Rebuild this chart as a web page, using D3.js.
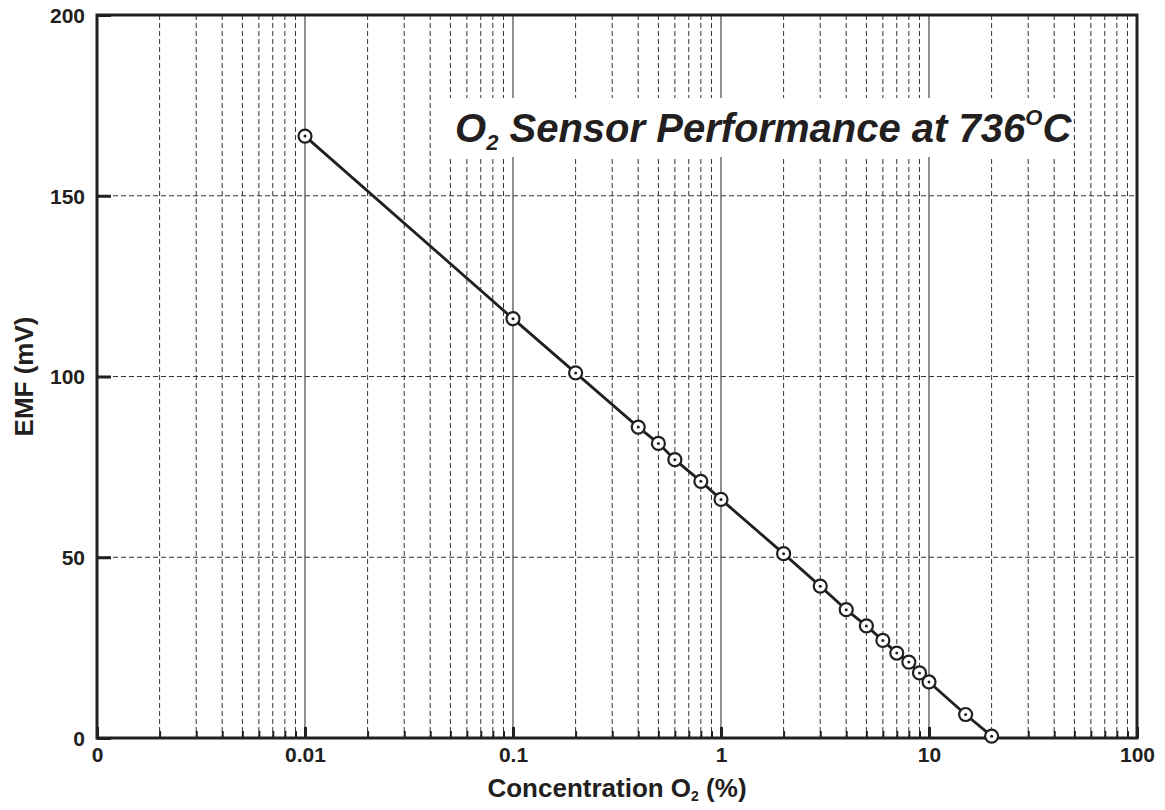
<!DOCTYPE html>
<html>
<head>
<meta charset="utf-8">
<script src="https://cdn.jsdelivr.net/npm/d3@7"></script>
<style>
body { margin: 0; background: #fff; }
svg text { font-family: "Liberation Sans", Arial, Helvetica, sans-serif; font-weight: 700; fill: #231f20; }
</style>
</head>
<body>
<svg id="chart" width="1165" height="810"></svg>
<script>
'use strict'

// O2 concentration (%) and measured EMF (mV)
const conc = [0.01, 0.1, 0.2, 0.4, 0.5, 0.6, 0.8, 1, 2, 3, 4, 5, 6, 7, 8, 9, 10, 15, 20]
const emf = [166.5, 116, 101, 86, 81.5, 77, 71, 66, 51, 42, 35.5, 31, 27, 23.5, 21, 18, 15.5, 6.5, 0.5]

const xMajor = [0.001, 0.01, 0.1, 1, 10, 100]
const xMajorLabels = ['0', '0.01', '0.1', '1', '10', '100']
const yTicks = [0, 50, 100, 150, 200]

const svg = d3.select('#chart')
const margin = {top: 15, right: 28, bottom: 72, left: 97}
const W = 1165, H = 810

const x = d3.scaleLog().domain([0.001, 100]).range([margin.left, W - margin.right])
const y = d3.scaleLinear().domain([0, 200]).range([H - margin.bottom, margin.top])

// minor positions 2..9 per decade
let xMinor = []
for (let i = 0; i < xMajor.length - 1; i++) {
	for (let m = 2; m <= 9; m++) xMinor.push(xMajor[i] * m)
}

const grid = svg.append('g')

grid.selectAll('.vminor').data(xMinor).enter().append('line')
	.attr('x1', d => x(d)).attr('x2', d => x(d))
	.attr('y1', y(200)).attr('y2', y(0))
	.attr('stroke', '#333').attr('stroke-width', 1)
	.attr('stroke-dasharray', '5,3')

grid.selectAll('.vmajor').data(xMajor.slice(1, -1)).enter().append('line')
	.attr('x1', d => x(d)).attr('x2', d => x(d))
	.attr('y1', y(200)).attr('y2', y(0))
	.attr('stroke', '#222').attr('stroke-width', 1)

grid.selectAll('.hgrid').data(yTicks.slice(1, -1)).enter().append('line')
	.attr('x1', x(0.001)).attr('x2', x(100))
	.attr('y1', d => y(d)).attr('y2', d => y(d))
	.attr('stroke', '#333').attr('stroke-width', 1)
	.attr('stroke-dasharray', '5,3')

// title box hides grid behind it
svg.append('rect')
	.attr('x', 445).attr('y', 98).attr('width', 624).attr('height', 59)
	.attr('fill', '#fff')

const title = svg.append('text')
	.attr('x', 455).attr('y', 142)
	.style('font-size', '40px').style('font-style', 'italic')
title.append('tspan').text('O')
title.append('tspan').text('2').style('font-size', '22px').attr('dy', 8)
title.append('tspan').text(' Sensor Performance at 736').attr('dy', -8)
title.append('tspan').text('O').style('font-size', '22px').attr('dy', -17)
title.append('tspan').text('C').attr('dy', 17)

// axes (inward ticks)
const xAxisMajor = d3.axisBottom(x).tickValues(xMajor).tickSize(-11).tickFormat((d, i) => xMajorLabels[i]).tickPadding(9)
const xAxisMinor = d3.axisBottom(x).tickValues(xMinor).tickSize(-7).tickFormat('')

const gxm = svg.append('g').attr('transform', `translate(0,${y(0)})`).call(xAxisMinor)
const gx = svg.append('g').attr('transform', `translate(0,${y(0)})`).call(xAxisMajor)
const gy = svg.append('g').attr('transform', `translate(${x(0.001)},0)`)
	.call(d3.axisLeft(y).tickValues(yTicks).tickSize(-14).tickPadding(12))

;[gx, gxm, gy].forEach(g => {
	g.attr('font-family', null).attr('font-size', null)
	g.select('.domain').remove()
	g.selectAll('.tick line').attr('stroke', '#231f20').attr('stroke-width', 3)
	g.selectAll('text').style('font-size', '21px')
})
gxm.selectAll('.tick line').attr('stroke-width', 2)
gy.selectAll('text').attr('dy', '0.35em')

// frame
svg.append('rect')
	.attr('x', x(0.001)).attr('y', y(200))
	.attr('width', x(100) - x(0.001)).attr('height', y(0) - y(200))
	.attr('fill', 'none').attr('stroke', '#231f20').attr('stroke-width', 3)

// data line and markers
const pts = conc.map((c, i) => [c, emf[i]])
svg.append('path').datum(pts)
	.attr('d', d3.line().x(d => x(d[0])).y(d => y(d[1])))
	.attr('fill', 'none').attr('stroke', '#231f20').attr('stroke-width', 2.8)

const mk = svg.selectAll('.mk').data(pts).enter().append('g')
	.attr('transform', d => `translate(${x(d[0])},${y(d[1])})`)
mk.append('circle').attr('r', 6.5).attr('fill', '#fff').attr('stroke', '#231f20').attr('stroke-width', 2.2)
mk.append('circle').attr('r', 1.5).attr('fill', '#231f20')

// axis titles
const xl = svg.append('text')
	.attr('x', (x(0.001) + x(100)) / 2).attr('y', 797)
	.attr('text-anchor', 'middle').style('font-size', '26px')
xl.append('tspan').text('Concentration O')
xl.append('tspan').text('2').style('font-size', '14px').attr('dy', 4)
xl.append('tspan').text(' (%)').attr('dy', -4)

svg.append('text')
	.attr('transform', `translate(33,${(y(0) + y(200)) / 2}) rotate(-90)`)
	.attr('text-anchor', 'middle').style('font-size', '26px')
	.text('EMF (mV)')
</script>
</body>
</html>
